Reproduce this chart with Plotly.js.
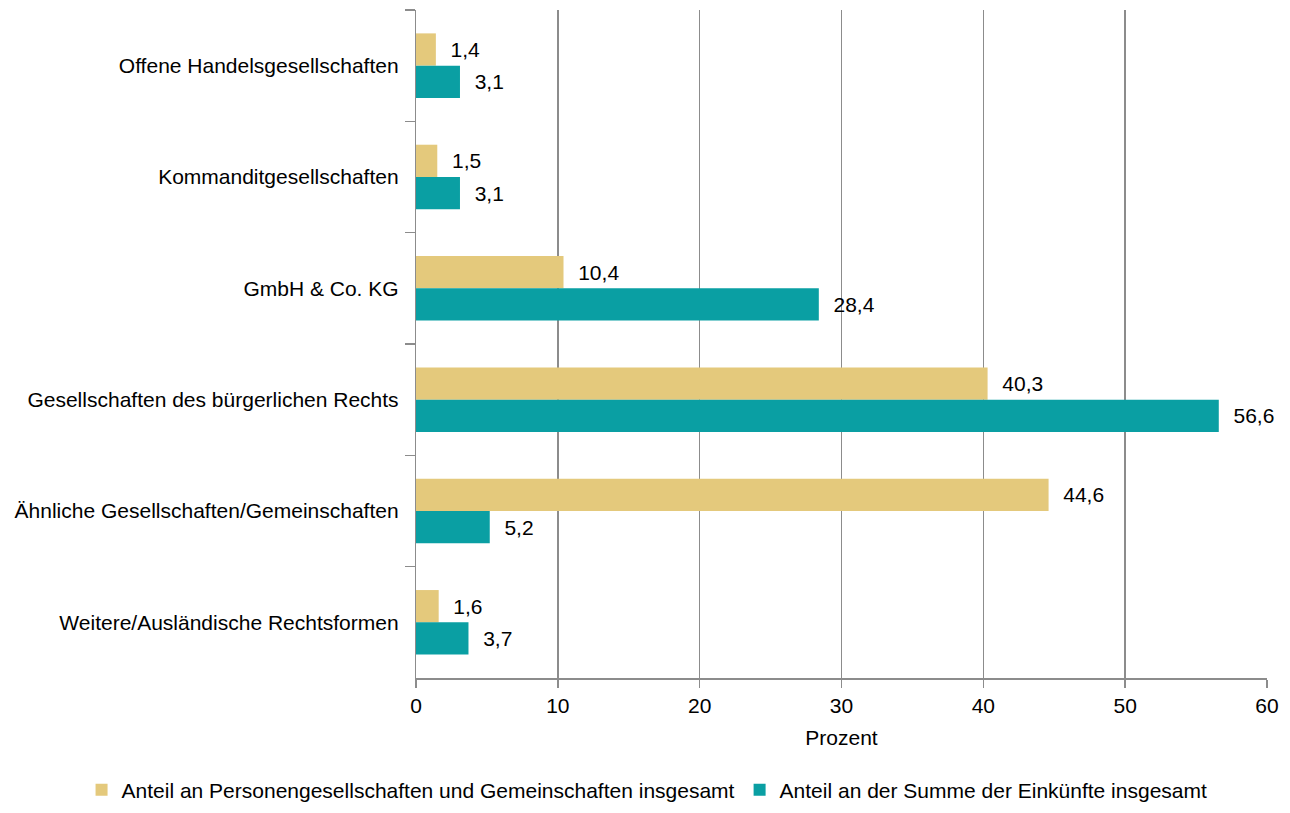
<!DOCTYPE html>
<html>
<head>
<meta charset="utf-8">
<script src="https://cdn.plot.ly/plotly-3.0.1.min.js"></script>
<style>html,body{margin:0;padding:0;background:#fff;}#chart{width:1290px;height:813px;}</style>
</head>
<body>
<div id="chart"></div>
<script>
const categories = [
  "Offene Handelsgesellschaften",
  "Kommanditgesellschaften",
  "GmbH & Co. KG",
  "Gesellschaften des bürgerlichen Rechts",
  "Ähnliche Gesellschaften/Gemeinschaften",
  "Weitere/Ausländische Rechtsformen"
];
const seriesNames = [
  "Anteil an Personengesellschaften und Gemeinschaften insgesamt",
  "Anteil an der Summe der Einkünfte insgesamt"
];
const anteilPersonen = [1.4, 1.5, 10.4, 40.3, 44.6, 1.6];
const anteilEinkuenfte = [3.1, 3.1, 28.4, 56.6, 5.2, 3.7];
const xTicks = [0, 10, 20, 30, 40, 50, 60];

const colors = ["#E4C97C", "#0A9FA3"];
const fmt = v => v.toFixed(1).replace('.', ',');
const font = {family: "Liberation Sans, Arial, sans-serif", size: 21, color: "#000"};

const traces = [anteilPersonen, anteilEinkuenfte].map((vals, i) => ({
  type: "bar",
  orientation: "h",
  name: seriesNames[i],
  y: categories,
  x: vals,
  marker: {color: colors[i]},
  text: vals.map(fmt),
  texttemplate: "  %{text}",
  textposition: "outside",
  cliponaxis: false,
  textfont: font,
  hoverinfo: "x+y"
}));

const layout = {
  width: 1290, height: 813,
  margin: {l: 416, r: 23, t: 10, b: 135, autoexpand: false},
  paper_bgcolor: "#fff", plot_bgcolor: "#fff",
  font: font,
  barmode: "group",
  bargap: 0.42,
  bargroupgap: 0,
  showlegend: true,
  legend: {orientation: "h", xref: "paper", yref: "paper",
           x: -0.393, xanchor: "left", y: -0.168, yanchor: "middle",
           font: font, traceorder: "normal", itemwidth: 30},
  xaxis: {
    range: [0, 60], tickvals: xTicks, ticktext: xTicks.map(String),
    showgrid: true, gridcolor: "#8c8c8c", gridwidth: 1.5,
    showline: true, linecolor: "#8c8c8c", linewidth: 1.5,
    ticks: "outside", ticklen: 8, tickcolor: "#8c8c8c", tickwidth: 1.5,
    zeroline: false, tickfont: font,
    title: {text: "Prozent", font: font, standoff: 14}
  },
  yaxis: {
    autorange: "reversed",
    categoryorder: "array", categoryarray: categories,
    showline: true, linecolor: "#8c8c8c", linewidth: 1.5,
    ticks: "outside", tickson: "boundaries", ticklen: 10, tickcolor: "#8c8c8c", tickwidth: 1.5,
    showgrid: false, tickfont: font, ticksuffix: "  "
  }
};

Plotly.newPlot("chart", traces, layout, {displayModeBar: false, staticPlot: true});
</script>
</body>
</html>
